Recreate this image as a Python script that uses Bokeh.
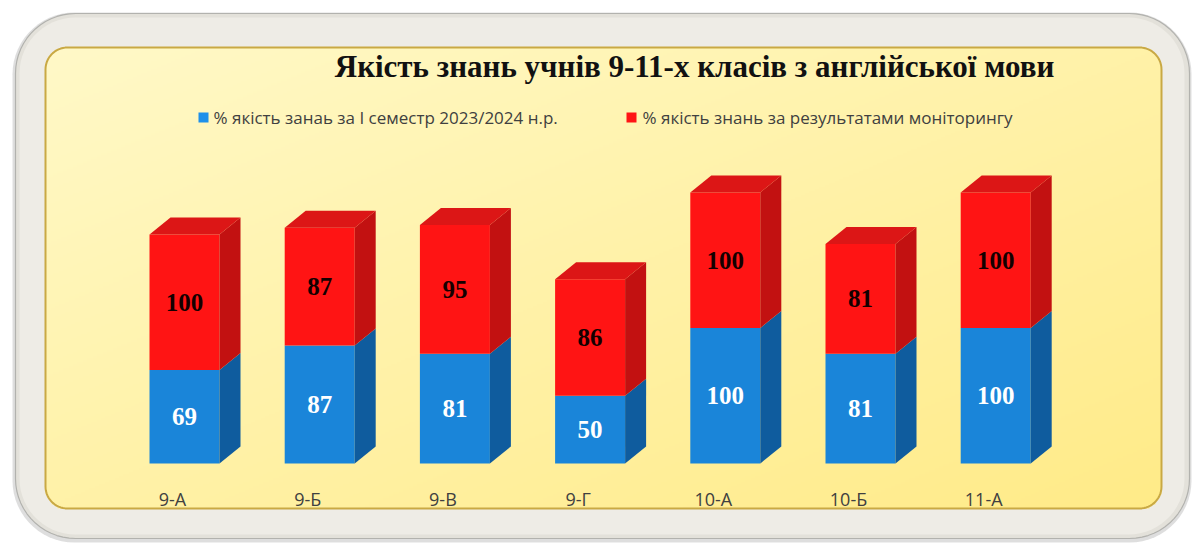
import numpy as np
from bokeh.plotting import figure
from bokeh.models import Range1d, ColumnDataSource
from bokeh.embed import file_html
from bokeh.resources import INLINE
from bokeh.core.properties import value

# ---------------- data ----------------
classes = ["9-А", "9-Б", "9-В", "9-Г", "10-А", "10-Б", "11-А"]
semester = [69, 87, 81, 50, 100, 81, 100]
monitoring = [100, 87, 95, 86, 100, 81, 100]
title_text = "Якість знань учнів 9-11-х класів з англійської мови"
legend_labels = ["% якість занаь за І семестр 2023/2024 н.р.",
                 "% якість знань за результатами моніторингу"]

# ---------------- layout constants ----------------
W, H = 1193, 543
X0, STEP = 184.0, 135.2      # pixel centre of first category, spacing
BASE, PXU = 463.0, 1.355     # baseline (px from top), px per unit
HW = 35.0 / STEP             # half width of bar front (category units)
DX = 21.0 / STEP             # 3D depth in x (category units)
DY = 17.0 / PXU              # 3D depth in y (value units)

BLUE_F, BLUE_S = "#1a85d9", "#0f5c9e"
RED_F, RED_S, RED_T = "#ff1414", "#c21111", "#dc1616"
SERIF = value("Liberation Serif")
SANS = value("Open Sans")

p = figure(width=W, height=H, x_range=Range1d(0, W), y_range=Range1d(0, H),
           output_backend="svg", toolbar_location=None, min_border=0,
           x_axis_location=None, y_axis_location=None,
           outline_line_color=None, background_fill_color="white",
           border_fill_color="white")
p.grid.visible = False
p.extra_x_ranges = {"c": Range1d(-X0 / STEP, (W - X0) / STEP)}
p.extra_y_ranges = {"v": Range1d(-(H - BASE) / PXU, BASE / PXU)}


def ty(v):
    return H - v


def rrect(x0, y0, x1, y1, r, n=16):
    xs, ys = [], []
    corners = [(x1 - r, y0 + r, -90, 0), (x1 - r, y1 - r, 0, 90),
               (x0 + r, y1 - r, 90, 180), (x0 + r, y0 + r, 180, 270)]
    for cx, cy, a0, a1 in corners:
        a = np.radians(np.linspace(a0, a1, n))
        xs.extend(cx + r * np.cos(a))
        ys.extend(cy + r * np.sin(a))
    return list(xs), [ty(v) for v in ys]


# ---------------- frame ----------------
sx, sy = rrect(12, 12, 1191, 542, 62)
p.patch(sx, sy, fill_color="#a0a0a0", fill_alpha=0.35, line_color=None)
ox, oy = rrect(15, 13, 1189, 538, 60)
p.patch(ox, oy, fill_color="#e3e1da", line_color="#b2b2ae", line_width=1.2)
hx, hy = rrect(19, 17, 1184, 534, 56)
p.patch(hx, hy, fill_color="#eeece6", line_color=None)

# inner panel gradient image
IX0, IY0, IX1, IY1, IR = 45, 47, 1161, 508, 22
sc = 2
iw, ih = (IX1 - IX0) // sc, (IY1 - IY0) // sc
gx = np.linspace(0, 1, iw)[None, :]
gy = np.linspace(0, 1, ih)[:, None]   # 0 = top
t = np.clip(0.5 * gx + 0.5 * gy, 0, 1)
c0 = np.array([255, 249, 200])
c1 = np.array([255, 235, 136])
img = np.zeros((ih, iw), dtype=np.uint32)
view = img.view(dtype=np.uint8).reshape((ih, iw, 4))
for k in range(3):
    view[:, :, k] = (c0[k] + (c1[k] - c0[k]) * t).astype(np.uint8)
view[:, :, 3] = 255
px = (np.arange(iw) + 0.5) * sc
py = (np.arange(ih) + 0.5) * sc
PX, PY = np.meshgrid(px, py)
wpx, hpx = IX1 - IX0, IY1 - IY0
qx = np.clip(PX, IR, wpx - IR)
qy = np.clip(PY, IR, hpx - IR)
mask = (PX - qx) ** 2 + (PY - qy) ** 2 > IR ** 2
view[mask, 3] = 0
img = img[::-1]  # first row = bottom
p.image_rgba(image=[img], x=IX0, y=ty(IY1), dw=IX1 - IX0, dh=IY1 - IY0)
bx, by = rrect(IX0, IY0, IX1, IY1, IR)
p.patch(bx, by, fill_color=None, line_color="#c9a944", line_width=2)

# ---------------- bars ----------------
idx = list(range(len(classes)))
tops = [b + r for b, r in zip(semester, monitoring)]
src = ColumnDataSource(dict(
    left=[i - HW for i in idx], right=[i + HW for i in idx],
    zero=[0] * len(idx), b=semester, t=tops,
))
p.quad(left="left", right="right", bottom="zero", top="b", source=src,
       fill_color=BLUE_F, line_color=None, x_range_name="c", y_range_name="v")
p.quad(left="left", right="right", bottom="b", top="t", source=src,
       fill_color=RED_F, line_color=None, x_range_name="c", y_range_name="v")

bs_x, bs_y, rs_x, rs_y, rt_x, rt_y = [], [], [], [], [], []
for i, b, tt in zip(idx, semester, tops):
    xr = i + HW
    bs_x.append([xr, xr + DX, xr + DX, xr])
    bs_y.append([0, DY, b + DY, b])
    rs_x.append([xr, xr + DX, xr + DX, xr])
    rs_y.append([b, b + DY, tt + DY, tt])
    rt_x.append([i - HW, i - HW + DX, xr + DX, xr])
    rt_y.append([tt, tt + DY, tt + DY, tt])
p.patches(bs_x, bs_y, fill_color=BLUE_S, line_color=None,
          x_range_name="c", y_range_name="v")
p.patches(rs_x, rs_y, fill_color=RED_S, line_color=None,
          x_range_name="c", y_range_name="v")
p.patches(rt_x, rt_y, fill_color=RED_T, line_color=None,
          x_range_name="c", y_range_name="v")

# value labels
p.text(x=idx, y=[b / 2 for b in semester], text=[str(v) for v in semester],
       text_align="center", text_baseline="middle", text_color="white",
       text_font=SERIF, text_font_style="bold", text_font_size="25px",
       x_range_name="c", y_range_name="v")
p.text(x=idx, y=[b + r / 2 for b, r in zip(semester, monitoring)],
       text=[str(v) for v in monitoring],
       text_align="center", text_baseline="middle", text_color="#140000",
       text_font=SERIF, text_font_style="bold", text_font_size="25px",
       x_range_name="c", y_range_name="v")

# category labels
p.text(x=[i - 12.0 / STEP for i in idx], y=[ty(498)] * len(idx), text=classes,
       text_align="center", text_baseline="middle", text_color="#404040",
       text_font=SANS, text_font_size="18px", x_range_name="c")

# ---------------- title & legend ----------------
p.text(x=[694], y=[ty(66)], text=[title_text], text_align="center",
       text_baseline="middle", text_color="#111111", text_font=SERIF,
       text_font_style="bold", text_font_size="31px")

p.quad(left=[198, 626], right=[208, 636], bottom=[ty(122)] * 2, top=[ty(112)] * 2,
       fill_color=["#1e90ea", "#ff1414"], line_color=None)
p.text(x=[213, 642], y=[ty(117)] * 2, text=legend_labels, text_align="left",
       text_baseline="middle", text_color="#404040", text_font=SANS,
       text_font_size="17px")

open("out.html", "w").write(file_html(p, INLINE))
